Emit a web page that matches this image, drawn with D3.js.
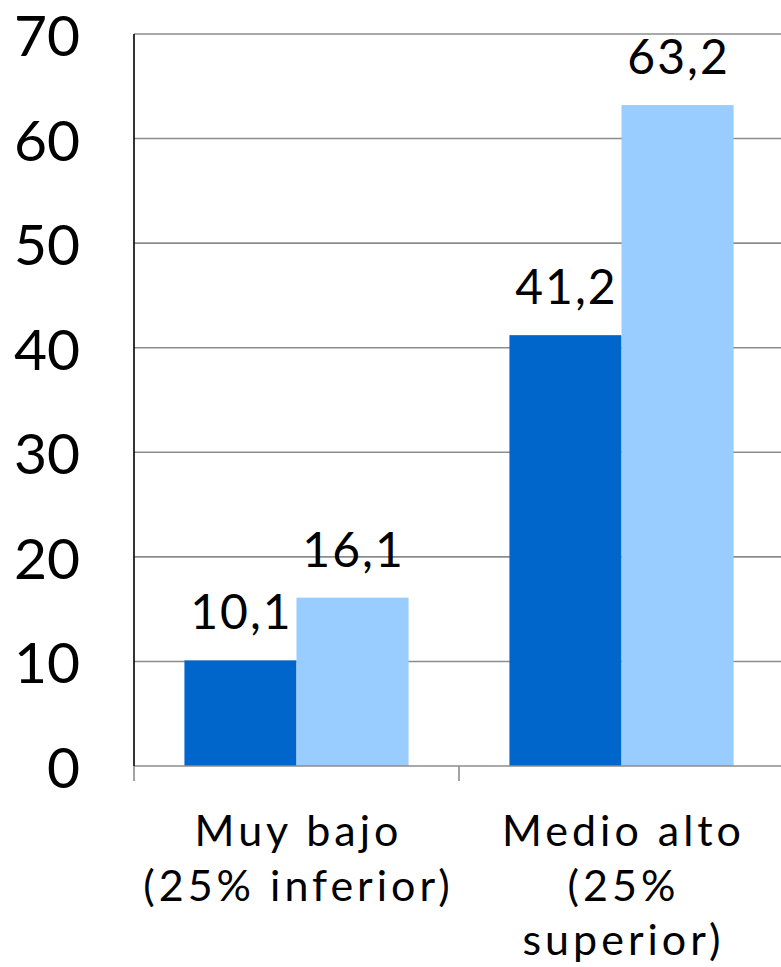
<!DOCTYPE html>
<html><head><meta charset="utf-8">
<script src="https://cdn.jsdelivr.net/npm/d3@7"></script>
<style>body{margin:0;background:#fff}svg{display:block}text{font-family:Lato,"Noto Sans",sans-serif;fill:#000}</style>
</head><body>
<script>
const categories = ["Muy bajo (25% inferior)", "Medio alto (25% superior)"];
const categoryLines = [["Muy bajo", "(25% inferior)"], ["Medio alto", "(25%", "superior)"]];
const seriesNames = ["Serie 1", "Serie 2"];
const series1 = [10.1, 41.2];
const series2 = [16.1, 63.2];
const valueLabels1 = ["10,1", "41,2"];
const valueLabels2 = ["16,1", "63,2"];
const yTicks = [0, 10, 20, 30, 40, 50, 60, 70];
const colors = ["#0066CC", "#99CCFF"];

const W = 781, H = 967;
const plotLeft = 134, plotTop = 34, plotBottom = 766, plotRightEnd = 784;
const svg = d3.select("body").append("svg").attr("width", W).attr("height", H);

const x0 = d3.scaleBand().domain(categories).range([plotLeft, plotRightEnd]).padding(0);
const x1 = d3.scaleBand().domain(seriesNames).range([0, x0.bandwidth()]).paddingInner(0).paddingOuter(0.45);
const y = d3.scaleLinear().domain([0, 70]).range([plotBottom, plotTop]);

// gridlines
svg.append("g").selectAll("line").data(yTicks.filter(d => d > 0)).join("line")
  .attr("x1", plotLeft).attr("x2", W).attr("y1", d => y(d)).attr("y2", d => y(d))
  .attr("stroke", "#8c8c8c").attr("stroke-width", 1.6);

// y tick labels
svg.append("g").selectAll("text").data(yTicks).join("text")
  .attr("x", 80).attr("y", d => y(d)).attr("text-anchor", "end").attr("dominant-baseline", "central")
  .attr("font-size", 57).text(d => d);

// bars
const data = categories.map((c, i) => ({c, vals: [
  {s: seriesNames[0], v: series1[i], l: valueLabels1[i], col: colors[0]},
  {s: seriesNames[1], v: series2[i], l: valueLabels2[i], col: colors[1]}]}));
const g = svg.append("g").selectAll("g").data(data).join("g")
  .attr("transform", d => `translate(${x0(d.c)},0)`);
g.selectAll("rect").data(d => d.vals).join("rect")
  .attr("x", d => x1(d.s)).attr("width", x1.bandwidth())
  .attr("y", d => y(d.v)).attr("height", d => y(0) - y(d.v)).attr("fill", d => d.col);
g.selectAll("text").data(d => d.vals).join("text")
  .attr("x", d => x1(d.s) + x1.bandwidth() / 2 + 1).attr("y", d => y(d.v) - 31)
  .attr("text-anchor", "middle").attr("font-size", 48).attr("letter-spacing", 2).text(d => d.l);

// x axis
svg.append("line").attr("x1", plotLeft).attr("x2", W).attr("y1", plotBottom).attr("y2", plotBottom)
  .attr("stroke", "#8c8c8c").attr("stroke-width", 1.6);
svg.append("g").selectAll("line").data(categories).join("line")
  .attr("x1", d => x0(d)).attr("x2", d => x0(d)).attr("y1", plotBottom).attr("y2", plotBottom + 15)
  .attr("stroke", "#8c8c8c").attr("stroke-width", 1.6);
// y axis
svg.append("line").attr("x1", plotLeft).attr("x2", plotLeft).attr("y1", plotTop).attr("y2", plotBottom)
  .attr("stroke", "#000").attr("stroke-width", 1.6);

// category labels
const cl = svg.append("g").selectAll("text").data(categories).join("text")
  .attr("text-anchor", "middle").attr("font-size", 43).attr("letter-spacing", 4);
cl.each(function(d, i) {
  d3.select(this).selectAll("tspan").data(categoryLines[i]).join("tspan")
    .attr("x", x0(d) + x0.bandwidth() / 2 + 2).attr("y", (t, j) => 846 + j * 54.5).text(t => t);
});
</script>
</body></html>
